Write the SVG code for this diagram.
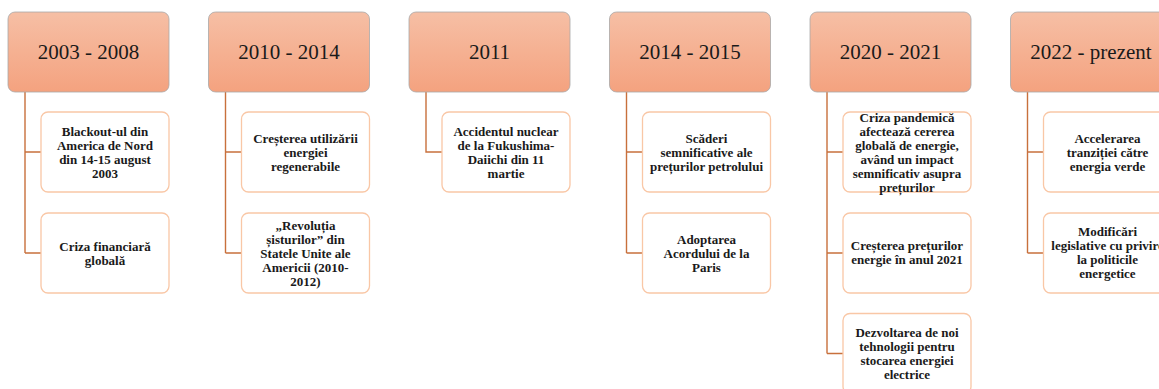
<svg xmlns="http://www.w3.org/2000/svg" width="1159" height="389" viewBox="0 0 1159 389">
<defs>
<linearGradient id="hg" x1="0" y1="0" x2="0" y2="1">
<stop offset="0" stop-color="#f6bfa5"/>
<stop offset="1" stop-color="#f4a27f"/>
</linearGradient>
<style>
.hd{fill:url(#hg);stroke:#a8a8a8;stroke-width:0.8}
.ht{font-family:"Liberation Serif",serif;font-size:21px;fill:#1a1a1a;text-anchor:middle}
.cb{fill:#ffffff;stroke:#f9c7a6;stroke-width:1.3}
.ct{font-family:"Liberation Serif",serif;font-size:13px;font-weight:bold;fill:#1a1a1a;text-anchor:middle}
.cn{fill:none;stroke:#c8703c;stroke-width:1.4}
</style>
</defs>
<rect width="1159" height="389" fill="#ffffff"/>
<g id="connectors">
<path class="cn" d="M25,92 V253 M25,152 H41 M25,253 H41"/>
<path class="cn" d="M225.5,92 V253 M225.5,152 H241.5 M225.5,253 H241.5"/>
<path class="cn" d="M426,92 V152 H442"/>
<path class="cn" d="M626.5,92 V253 M626.5,152 H642.5 M626.5,253 H642.5"/>
<path class="cn" d="M827,92 V353.5 M827,152 H843 M827,253 H843 M827,353.5 H843"/>
<path class="cn" d="M1027.5,92 V253 M1027.5,152 H1043.5 M1027.5,253 H1043.5"/>
</g>
<g id="h1"><rect class="hd" x="8" y="12" width="161" height="80" rx="7"/><text class="ht" x="88.5" y="59">2003 - 2008</text></g>
<g id="h2"><rect class="hd" x="208.5" y="12" width="161" height="80" rx="7"/><text class="ht" x="289" y="59">2010 - 2014</text></g>
<g id="h3"><rect class="hd" x="409" y="12" width="161" height="80" rx="7"/><text class="ht" x="489.5" y="59">2011</text></g>
<g id="h4"><rect class="hd" x="609.5" y="12" width="161" height="80" rx="7"/><text class="ht" x="690" y="59">2014 - 2015</text></g>
<g id="h5"><rect class="hd" x="810" y="12" width="161" height="80" rx="7"/><text class="ht" x="890.5" y="59">2020 - 2021</text></g>
<g id="h6"><rect class="hd" x="1010.5" y="12" width="161" height="80" rx="7"/><text class="ht" x="1091" y="59">2022 - prezent</text></g>

<g id="c1a"><rect class="cb" x="41" y="112" width="128" height="80" rx="7"/><text class="ct"><tspan x="105" y="135.5">Blackout-ul din</tspan><tspan x="105" y="149.5">America de Nord</tspan><tspan x="105" y="163.5">din 14-15 august</tspan><tspan x="105" y="177.5">2003</tspan></text></g>
<g id="c1b"><rect class="cb" x="41" y="213" width="128" height="80" rx="7"/><text class="ct"><tspan x="105" y="250.5">Criza financiară</tspan><tspan x="105" y="264.5">globală</tspan></text></g>

<g id="c2a"><rect class="cb" x="241.5" y="112" width="128" height="80" rx="7"/><text class="ct"><tspan x="305.5" y="142.5">Creșterea utilizării</tspan><tspan x="305.5" y="156.5">energiei</tspan><tspan x="305.5" y="170.5">regenerabile</tspan></text></g>
<g id="c2b"><rect class="cb" x="241.5" y="213" width="128" height="80" rx="7"/><text class="ct"><tspan x="305.5" y="229.5">„Revoluția</tspan><tspan x="305.5" y="243.5">șisturilor” din</tspan><tspan x="305.5" y="257.5">Statele Unite ale</tspan><tspan x="305.5" y="271.5">Americii (2010-</tspan><tspan x="305.5" y="285.5">2012)</tspan></text></g>

<g id="c3a"><rect class="cb" x="442" y="112" width="128" height="80" rx="7"/><text class="ct"><tspan x="506" y="135.5">Accidentul nuclear</tspan><tspan x="506" y="149.5">de la Fukushima-</tspan><tspan x="506" y="163.5">Daiichi din 11</tspan><tspan x="506" y="177.5">martie</tspan></text></g>

<g id="c4a"><rect class="cb" x="642.5" y="112" width="128" height="80" rx="7"/><text class="ct"><tspan x="706.5" y="142.5">Scăderi</tspan><tspan x="706.5" y="156.5">semnificative ale</tspan><tspan x="706.5" y="170.5">prețurilor petrolului</tspan></text></g>
<g id="c4b"><rect class="cb" x="642.5" y="213" width="128" height="80" rx="7"/><text class="ct"><tspan x="706.5" y="243.5">Adoptarea</tspan><tspan x="706.5" y="257.5">Acordului de la</tspan><tspan x="706.5" y="271.5">Paris</tspan></text></g>

<g id="c5a"><rect class="cb" x="843" y="112" width="128" height="80" rx="7"/><text class="ct"><tspan x="907" y="121.5">Criza pandemică</tspan><tspan x="907" y="135.5">afectează cererea</tspan><tspan x="907" y="149.5">globală de energie,</tspan><tspan x="907" y="163.5">având un impact</tspan><tspan x="907" y="177.5">semnificativ asupra</tspan><tspan x="907" y="191.5">prețurilor</tspan></text></g>
<g id="c5b"><rect class="cb" x="843" y="213" width="128" height="80" rx="7"/><text class="ct"><tspan x="907" y="250">Creșterea prețurilor</tspan><tspan x="907" y="264">energie în anul 2021</tspan></text></g>
<g id="c5c"><rect class="cb" x="843" y="313.5" width="128" height="80" rx="7"/><text class="ct"><tspan x="907" y="337">Dezvoltarea de noi</tspan><tspan x="907" y="351">tehnologii pentru</tspan><tspan x="907" y="365">stocarea energiei</tspan><tspan x="907" y="379">electrice</tspan></text></g>

<g id="c6a"><rect class="cb" x="1043.5" y="112" width="128" height="80" rx="7"/><text class="ct"><tspan x="1107.5" y="142.5">Accelerarea</tspan><tspan x="1107.5" y="156.5">tranziției către</tspan><tspan x="1107.5" y="170.5">energia verde</tspan></text></g>
<g id="c6b"><rect class="cb" x="1043.5" y="213" width="128" height="80" rx="7"/><text class="ct"><tspan x="1107.5" y="235.5">Modificări</tspan><tspan x="1107.5" y="249.5">legislative cu privire</tspan><tspan x="1107.5" y="263.5">la politicile</tspan><tspan x="1107.5" y="277.5">energetice</tspan></text></g>
</svg>
